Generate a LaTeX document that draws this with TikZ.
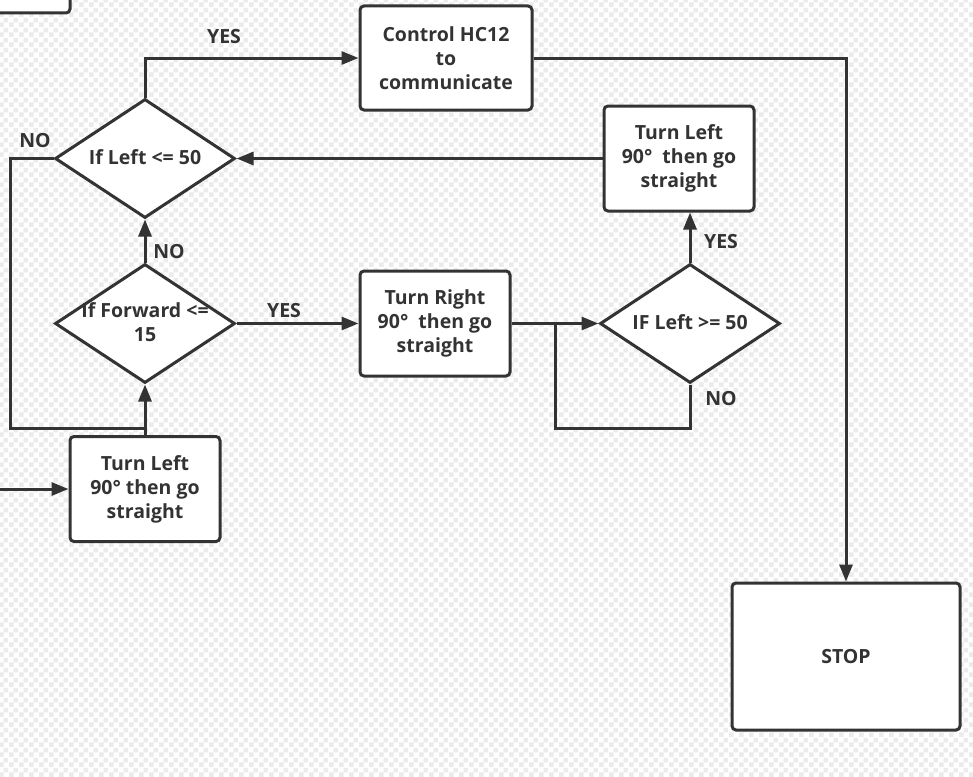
\documentclass[tikz,border=0pt]{standalone}
\usepackage{fontspec}
\setmainfont{Open Sans}
\usetikzlibrary{shapes.geometric,arrows.meta,patterns}
\pgfdeclarepatternformonly{chk}{\pgfpointorigin}{\pgfqpoint{10pt}{10pt}}{\pgfqpoint{10pt}{10pt}}{%
  \pgfpathrectangle{\pgfpointorigin}{\pgfqpoint{5pt}{5pt}}%
  \pgfpathrectangle{\pgfqpoint{5pt}{5pt}}{\pgfqpoint{5pt}{5pt}}%
  \pgfusepath{fill}}
\definecolor{ink}{HTML}{333333}
\begin{document}
\begin{tikzpicture}[x=1pt,y=-1pt,
  txt/.style={text=ink, font=\bfseries\fontsize{19.5}{24}\selectfont, align=center, inner sep=0pt},
  box/.style={txt, draw=ink, line width=3pt, rounded corners=4pt, fill=white},
  dia/.style={diamond, draw=ink, line width=3pt, fill=white, inner sep=0pt, minimum width=180pt, minimum height=119pt},
  lbl/.style={txt},
  conn/.style={draw=ink, line width=3pt},
  arr/.style={conn, -{Triangle[length=17pt,width=13pt]}}]
\useasboundingbox (0,0) rectangle (973,776);
\clip (0,0) rectangle (973,776);
\fill[white] (0,0) rectangle (973,776);
\fill[pattern=chk, pattern color=black!8] (0,0) rectangle (973,776);

% nodes
\node[box, minimum width=90pt, minimum height=63pt] (prev) at (25,-18.5) {};
\node[box, minimum width=172pt, minimum height=104pt] (ctrl) at (446,58) {Control HC12\\to\\communicate};
\node[box, minimum width=150pt, minimum height=105pt] (tlr) at (679,158.5) {Turn Left\\90°\ \ then go\\straight};
\node[box, minimum width=150pt, minimum height=105pt] (tr) at (435,323.5) {Turn Right\\90°\ \ then go\\straight};
\node[box, minimum width=150pt, minimum height=105pt] (tll) at (145,489) {Turn Left\\90° then go\\straight};
\node[box, minimum width=228pt, minimum height=147pt] (stop) at (846,656.5) {STOP};

\node[dia] (d1) at (145,158.5) {};
\node[txt] at ([yshift=1.5pt]d1.center) {If Left <= 50};
\node[dia] (d2) at (145,323.5) {};
\node[txt] at ([yshift=1.5pt]d2.center) {If Forward <=\\15};
\node[dia] (d3) at (690,323.5) {};
\node[txt] at ([yshift=1.5pt]d3.center) {IF Left >= 50};

% helper coordinates
\coordinate (inl) at (-5,489);
\coordinate (j1) at (145,428);
\coordinate (j2) at (555,323.5);
\coordinate (lx) at (10,158.5);
\coordinate (rl) at (690,428);
\coordinate (tp) at (846,58);

% connectors
\draw[arr] (d1.north) |- (ctrl.west);
\draw[arr] (ctrl.east) -- (tp) -- (stop.north);
\draw[arr] (tlr.west) -- (d1.east);
\draw[conn] (d1.west) -- (lx) |- (j1);
\draw[arr] (d2.north) -- (d1.south);
\draw[arr] (tll.north) -- (d2.south);
\draw[arr] (d2.east) -- (tr.west);
\draw[arr] (tr.east) -- (d3.west);
\draw[conn] (d3.south) -- (rl) -| (j2);
\draw[arr] (d3.north) -- (d3.north |- tlr.south);
\draw[arr] (inl) -- (tll.west);

% labels
\node[lbl] at (224,37) {YES};
\node[lbl] at (35,141) {NO};
\node[lbl] at (169,252) {NO};
\node[lbl] at (284,311) {YES};
\node[lbl] at (721,242) {YES};
\node[lbl] at (721,399) {NO};
\end{tikzpicture}
\end{document}
